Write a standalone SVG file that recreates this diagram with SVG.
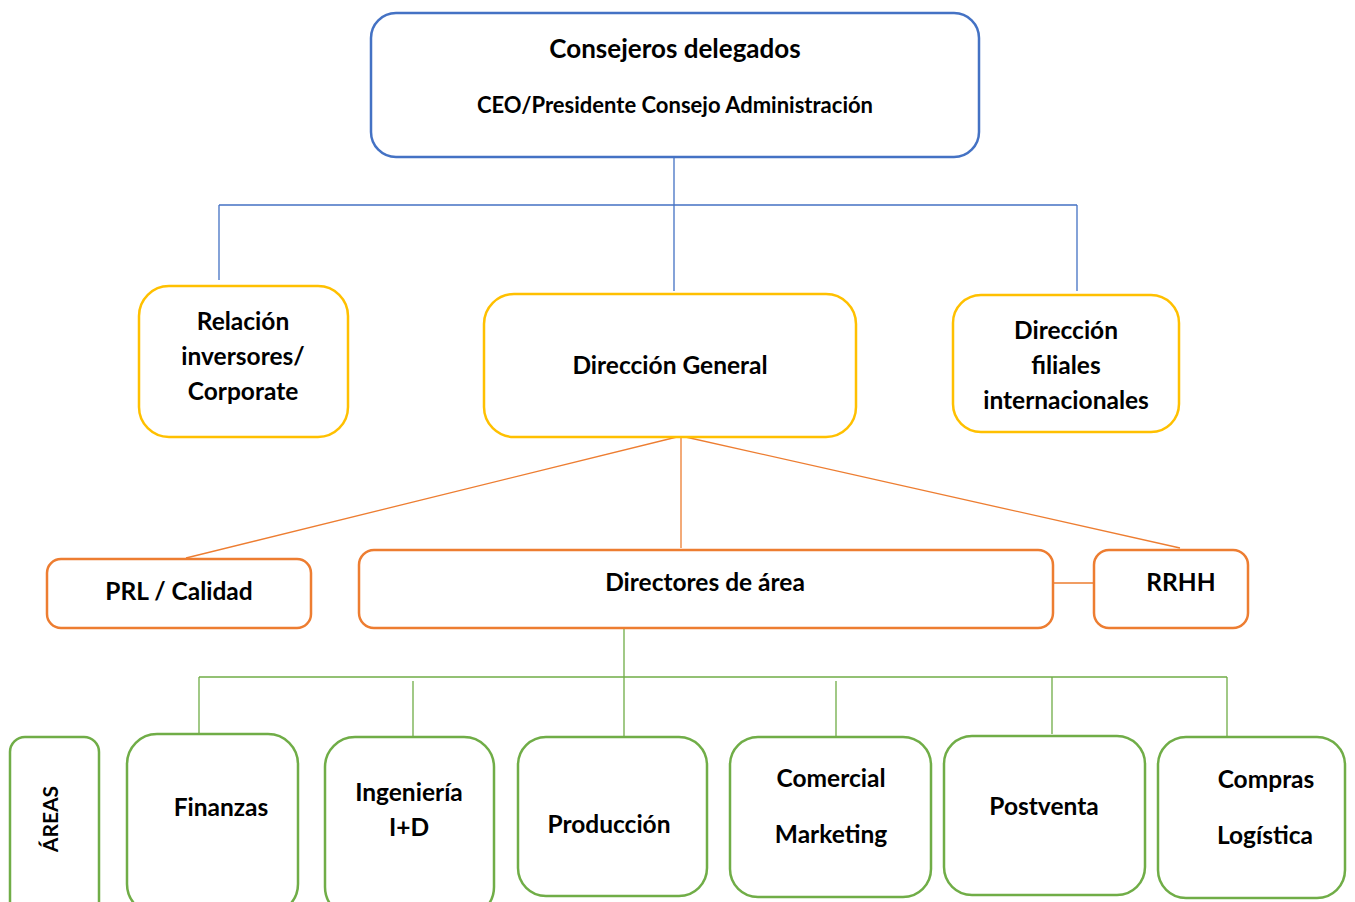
<svg xmlns="http://www.w3.org/2000/svg" width="1355" height="902" viewBox="0 0 1355 902">
<style>
.t{font-family:Lato,"Open Sans","Liberation Sans",sans-serif;font-weight:bold;fill:#000;text-anchor:middle;dominant-baseline:central;font-size:24.5px}
.b{fill:#fff;stroke:#4472C4;stroke-width:2.5}
.y{fill:#fff;stroke:#FFC000;stroke-width:2.5}
.o{fill:#fff;stroke:#ED7D31;stroke-width:2.5}
.g{fill:#fff;stroke:#70AD47;stroke-width:2.5}
.lb{stroke:#4472C4;stroke-width:1.3;fill:none}
.lo{stroke:#ED7D31;stroke-width:1.3;fill:none}
.lg{stroke:#70AD47;stroke-width:1.3;fill:none}
</style>
<rect width="1355" height="902" fill="#fff"/>
<g id="connectors">
<path class="lb" d="M674 157V291M219 205H1077M219 205V280M1077 205V291"/>
<path class="lo" d="M681 436L186 558M681 436L1180 548M681 432V548M1053 583H1094"/>
<path class="lg" d="M624 628V737M199 677H1227M199 677V734M413 681V737M836 681V737M1052 677V734M1227 677V737"/>
</g>
<g id="ceo"><rect class="b" x="371" y="13" width="608" height="144" rx="25"/>
<text class="t" x="675" y="48" style="font-size:26px">Consejeros delegados</text>
<text class="t" x="675" y="104" style="font-size:22px">CEO/Presidente Consejo Administración</text></g>
<g id="relacion"><rect class="y" x="139" y="286" width="209" height="151" rx="30"/>
<text class="t" x="243" y="320">Relación</text>
<text class="t" x="243" y="355">inversores/</text>
<text class="t" x="243" y="390">Corporate</text></g>
<g id="direccion-general"><rect class="y" x="484" y="294" width="372" height="143" rx="30"/>
<text class="t" x="670" y="364">Dirección General</text></g>
<g id="filiales"><rect class="y" x="953" y="295" width="226" height="137" rx="28"/>
<text class="t" x="1066" y="329">Dirección</text>
<text class="t" x="1066" y="364">filiales</text>
<text class="t" x="1066" y="399">internacionales</text></g>
<g id="prl"><rect class="o" x="47" y="559" width="264" height="69" rx="14"/>
<text class="t" x="179" y="590">PRL / Calidad</text></g>
<g id="directores"><rect class="o" x="359" y="550" width="694" height="78" rx="15"/>
<text class="t" x="705" y="581">Directores de área</text></g>
<g id="rrhh"><rect class="o" x="1094" y="550" width="154" height="78" rx="15"/>
<text class="t" x="1181" y="581">RRHH</text></g>
<g id="areas"><rect class="g" x="10" y="737" width="89" height="180" rx="15"/>
<text class="t" x="49" y="819" style="font-size:21px" transform="rotate(-90 49 819)">ÁREAS</text></g>
<g id="finanzas"><rect class="g" x="127" y="734" width="171" height="180" rx="30"/>
<text class="t" x="221" y="806">Finanzas</text></g>
<g id="ingenieria"><rect class="g" x="325" y="737" width="169" height="180" rx="30"/>
<text class="t" x="409" y="791">Ingeniería</text>
<text class="t" x="409" y="826">I+D</text></g>
<g id="produccion"><rect class="g" x="518" y="737" width="189" height="159" rx="28"/>
<text class="t" x="609" y="823">Producción</text></g>
<g id="comercial"><rect class="g" x="730" y="737" width="201" height="160" rx="28"/>
<text class="t" x="831" y="777">Comercial</text>
<text class="t" x="831" y="833">Marketing</text></g>
<g id="postventa"><rect class="g" x="944" y="736" width="201" height="159" rx="28"/>
<text class="t" x="1044" y="805">Postventa</text></g>
<g id="compras"><rect class="g" x="1158" y="737" width="187" height="161" rx="28"/>
<text class="t" x="1266" y="778">Compras</text>
<text class="t" x="1265" y="834">Logística</text></g>
</svg>
